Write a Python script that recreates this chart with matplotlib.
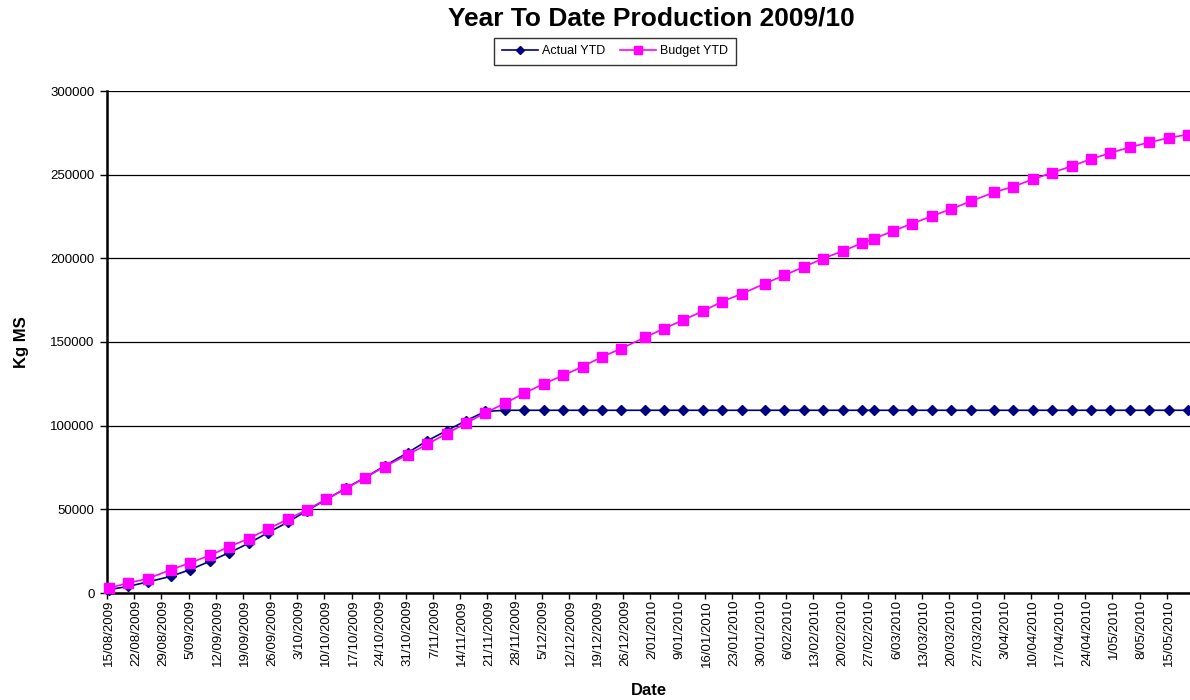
import numpy as np
import pandas as pd
import matplotlib
matplotlib.use('Agg')
import matplotlib.pyplot as plt
import matplotlib.dates as mdates
from matplotlib.ticker import FixedLocator, FuncFormatter, NullFormatter

plt.rcParams['font.family'] = ['Liberation Sans', 'DejaVu Sans']

# dates of the readings (5th, 10th, 15th, 20th, 25th, month end)
dates = ['2009-08-15', '2009-08-20', '2009-08-25', '2009-08-31',
         '2009-09-05', '2009-09-10', '2009-09-15', '2009-09-20', '2009-09-25', '2009-09-30',
         '2009-10-05', '2009-10-10', '2009-10-15', '2009-10-20', '2009-10-25', '2009-10-31',
         '2009-11-05', '2009-11-10', '2009-11-15', '2009-11-20', '2009-11-25', '2009-11-30',
         '2009-12-05', '2009-12-10', '2009-12-15', '2009-12-20', '2009-12-25', '2009-12-31',
         '2010-01-05', '2010-01-10', '2010-01-15', '2010-01-20', '2010-01-25', '2010-01-31',
         '2010-02-05', '2010-02-10', '2010-02-15', '2010-02-20', '2010-02-25', '2010-02-28',
         '2010-03-05', '2010-03-10', '2010-03-15', '2010-03-20', '2010-03-25', '2010-03-31',
         '2010-04-05', '2010-04-10', '2010-04-15', '2010-04-20', '2010-04-25', '2010-04-30',
         '2010-05-05', '2010-05-10', '2010-05-15', '2010-05-20']

actual_ytd = [2000, 4000, 6600, 10000,
              14000, 19000, 24100, 29700, 36100, 42200,
              49200, 55900, 62600, 69000, 75900, 83900,
              91000, 97000, 103000, 108500, 109200, 109200,
              109200, 109200, 109200, 109200, 109200, 109200,
              109200, 109200, 109200, 109200, 109200, 109200,
              109200, 109200, 109200, 109200, 109200, 109200,
              109200, 109200, 109200, 109200, 109200, 109200,
              109200, 109200, 109200, 109200, 109200, 109200,
              109200, 109200, 109200, 109200]

budget_ytd = [3000, 6000, 8600, 13900,
              18100, 22500, 27700, 32500, 38300, 44000,
              49800, 56000, 62400, 68900, 75500, 82700,
              88900, 95300, 101500, 107700, 113400, 119400,
              125000, 130000, 135300, 141100, 146100, 152700,
              158000, 163200, 168400, 174200, 178800, 184900,
              189900, 194900, 199900, 204300, 209100, 211600,
              216400, 220800, 225200, 229500, 234100, 239400,
              242900, 247200, 251200, 255100, 259300, 263000,
              266400, 269300, 272000, 274000]

x = mdates.date2num(pd.to_datetime(dates))

fig = plt.figure(figsize=(11.9, 7), dpi=100)
ax = fig.add_axes([107/1190, 1-593/700, 1-107/1190, (593-91)/700])

ax.plot(x, actual_ytd, color='#000080', lw=1.2, marker='D', ms=5.5,
        label='Actual YTD', clip_on=False, zorder=3)
ax.plot(x, budget_ytd, color='#FF00FF', lw=1.2, marker='s', ms=6.5,
        label='Budget YTD', clip_on=False, zorder=4)

ax.set_xlim(x[0]-0.5, x[-1]+0.5)
ax.set_ylim(0, 300000)
ax.set_yticks(np.arange(0, 300001, 50000))
ax.grid(axis='y', color='black', lw=0.9)
ax.set_axisbelow(True)

# weekly ticks at slot edges, labels at slot centres
week = np.arange(x[0], x[-1]+0.1, 7)
ax.xaxis.set_major_locator(FixedLocator(week-0.5))
ax.xaxis.set_major_formatter(NullFormatter())
ax.xaxis.set_minor_locator(FixedLocator(week))
ax.xaxis.set_minor_formatter(FuncFormatter(
    lambda v, p: '%d/%s' % (mdates.num2date(v).day, mdates.num2date(v).strftime('%m/%Y'))))
ax.tick_params(axis='x', which='major', length=4, width=1, direction='out')
ax.tick_params(axis='x', which='minor', length=0, labelsize=9.5, rotation=90, pad=5)
ax.tick_params(axis='y', length=5, width=1, labelsize=9.5, pad=4)

for s in ['top', 'right']:
    ax.spines[s].set_visible(False)
for s in ['left', 'bottom']:
    ax.spines[s].set_linewidth(1.8)

ax.set_xlabel('Date', fontsize=12, fontweight='bold', labelpad=12)
ax.set_ylabel('Kg MS', fontsize=12, fontweight='bold', labelpad=15)

fig.text(651/1190, 1-18/700, 'Year To Date Production 2009/10', fontsize=19,
         fontweight='bold', ha='center', va='center')
leg = fig.legend(loc='center', bbox_to_anchor=(615/1190, 1-51/700), ncol=2,
                 fontsize=9, frameon=True, fancybox=False, edgecolor='black',
                 handlelength=2.9, columnspacing=1.2, handletextpad=0.3,
                 borderpad=0.6, markerscale=0.8)
leg.get_frame().set_linewidth(1.0)

fig.savefig('out.png', dpi=100)
